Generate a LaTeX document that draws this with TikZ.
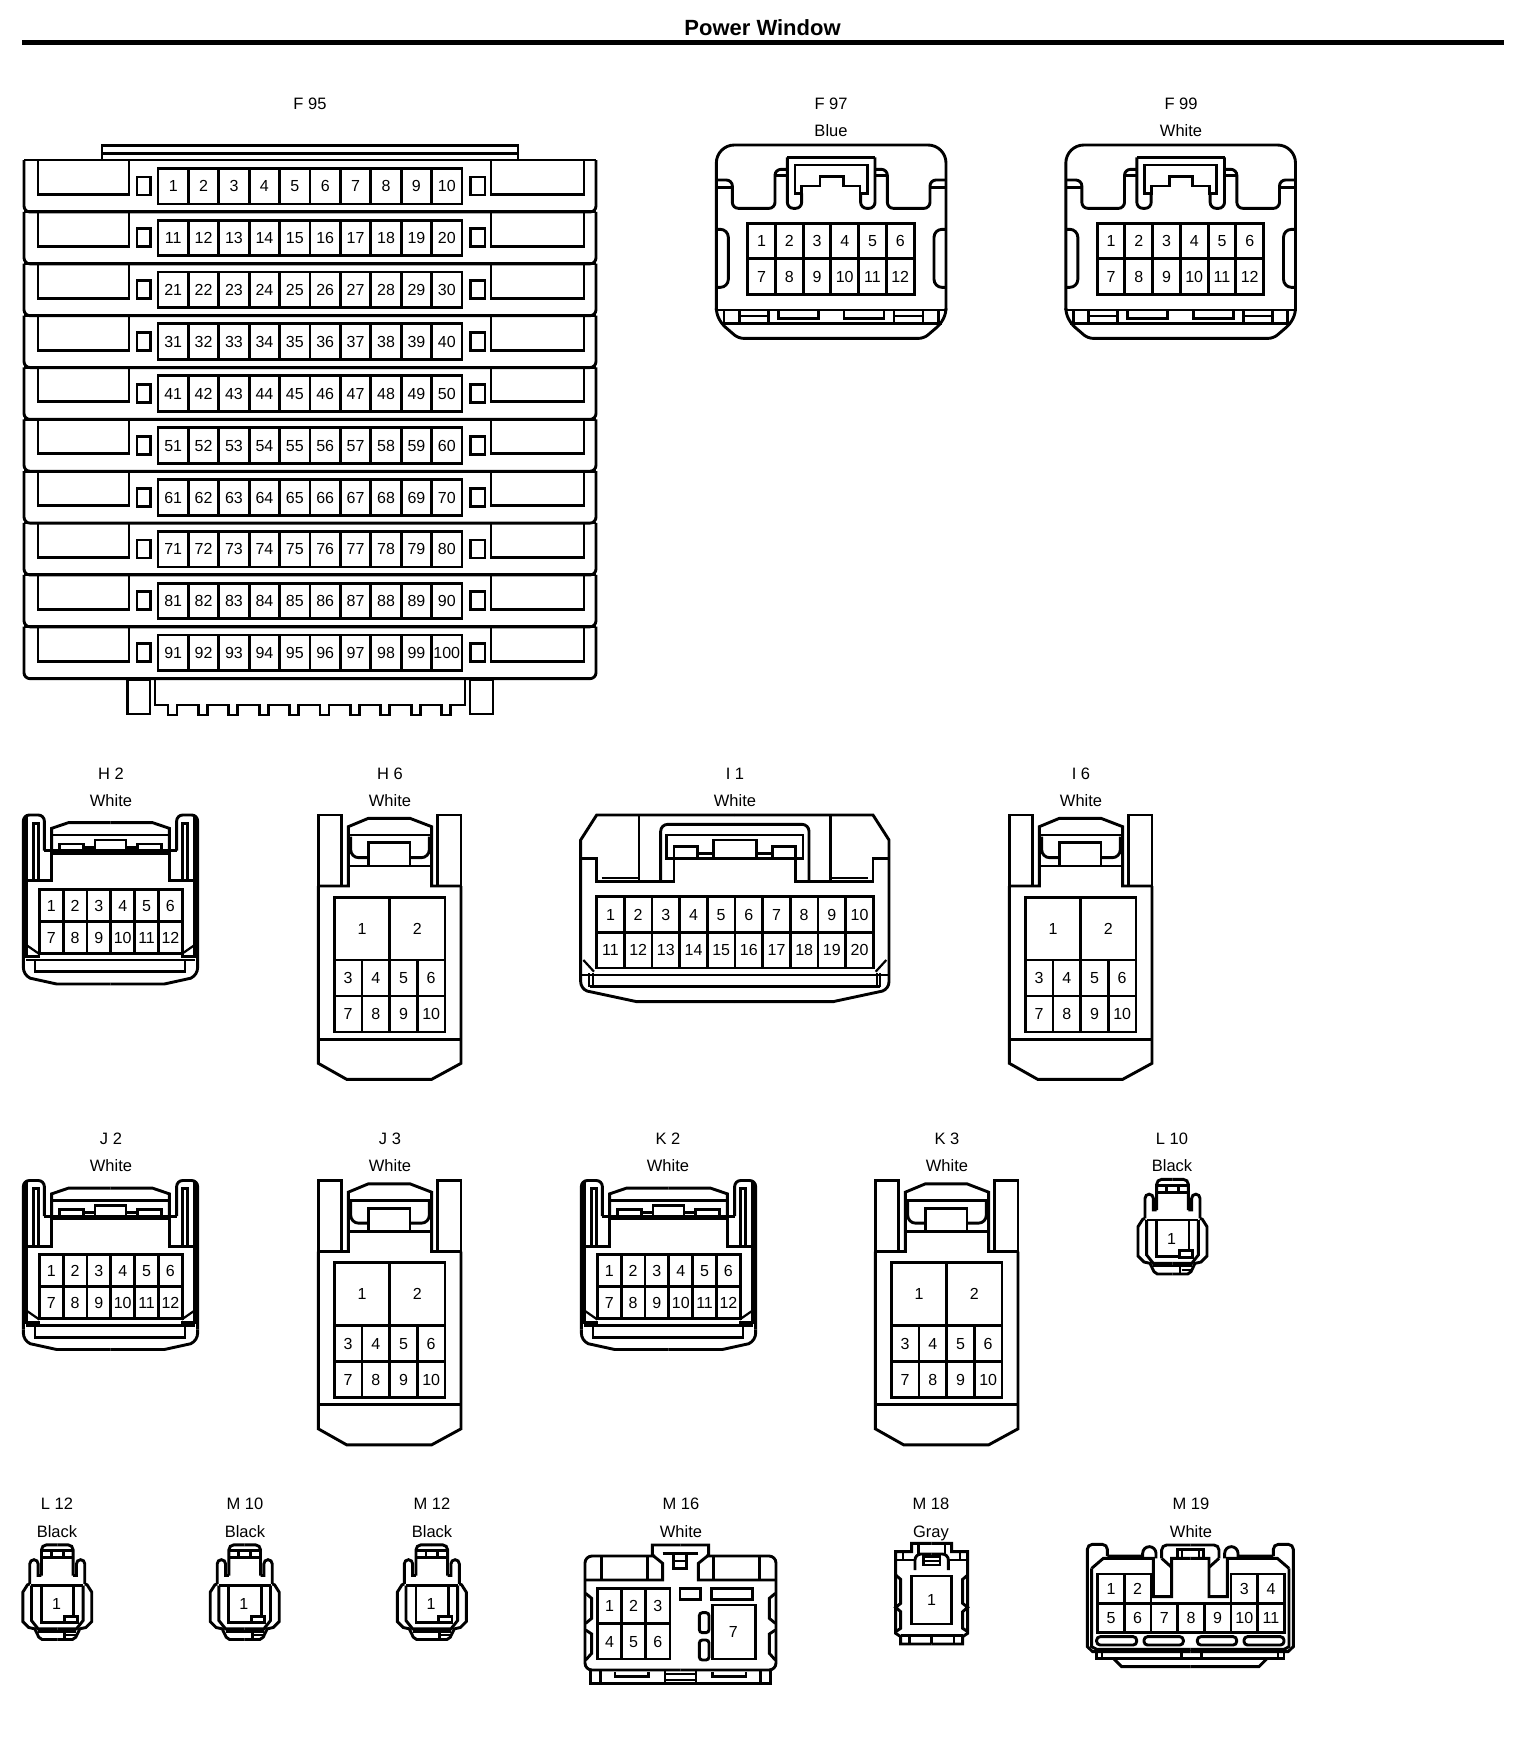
\documentclass[tikz,border=0pt]{standalone}
\usepackage{fontspec}
\setmainfont{Liberation Sans}
\usetikzlibrary{positioning}
\newcommand{\pinrow}[6]{% x, y, cell w, cell h, cells, first pin
  \foreach \cell in {1,...,#5}{
    \pgfmathtruncatemacro{\pinno}{#6+\cell-1}
    \draw[wire] ({#1+(\cell-1)*#3},#2) rectangle ++(#3,#4);
    \node[pinnum] (-p\pinno) at ({#1+(\cell-.5)*#3},{#2+#4/2}) {\pinno};
  }
}
\tikzset{
    % Define standard styles
    wire/.style={line width=2.9pt, line join=miter, draw=black},
    thinwire/.style={line width=2.2pt, draw=black},
    pinnum/.style={inner sep=0pt, text=black, text height=11.5pt, text depth=0pt, font=\fontsize{16}{18}\selectfont},
    tag/.style={inner sep=0pt, text=black, text height=12pt, text depth=0pt, font=\fontsize{16.5}{18}\selectfont},
    zoomed/.style={scale=1/3},
    % F 95 row
    f95row/.pic={
        \pgfmathtruncatemacro{\firstpin}{10*#1+1}
        \draw[wire] (24,0) -- (596,0);
        \draw[wire, rounded corners=6] (24,0) -- (24,52) -- (596,52) -- (596,0);
        \draw[wire] (38,0) -- (38,34.5) -- (129,34.5) -- (129,0);
        \draw[wire] (491,0) -- (491,34.5) -- (584,34.5) -- (584,0);
        \draw[wire] (137,17) rectangle (150.5,35);
        \draw[wire] (470.5,17) rectangle (485,35);
        \pinrow{158}{8.3}{30.4}{35.7}{10}{\firstpin}
    },
    % F 97, F 99
    flatcase/.pic={
        \begin{scope}[zoomed]
        \draw[wire, rounded corners=18] (49,690) -- (49,195) -- (738,195) -- (738,690);
        \draw[wire, rounded corners=5] (49,690) -- (49,700) -- (65,732) -- (115,775) -- (672,775) -- (722,732) -- (738,700) -- (738,690);
        \draw[wire] (49,690) -- (738,690);
        \draw[wire] (62,730) -- (725,730);
        \foreach \flip/\off in {1/0,-1/787}{
        \begin{scope}[shift={(\off,0)},xscale=\flip]
            \draw[wire, rounded corners=6] (262,268) -- (225,268) -- (225,385) -- (97,385) -- (97,300) -- (49,300);
            \draw[wire] (225,287) -- (262,287);
            \draw[wire] (49,322) -- (97,322);
            \draw[wire, rounded corners=6] (262,232) -- (262,385) -- (305,385) -- (305,340);
            \draw[wire, rounded corners=8] (49,448) -- (85,448) -- (85,622) -- (49,622);
            \draw[wire] (72,690) -- (72,730);
            \draw[wire] (118,690) -- (118,730);
            \draw[wire] (118,708) -- (205,708);
            \draw[wire] (205,690) -- (205,730);
            \draw[wire] (235,690) -- (235,715) -- (355,715) -- (355,690);
        \end{scope}
        }
        \draw[wire] (262,232) -- (525,232);
        \draw[wire] (285,340) -- (285,255) -- (502,255) -- (502,340) -- (480,340) -- (480,318) -- (430,318) -- (430,290) -- (360,290) -- (360,318) -- (305,318) -- (305,340) -- cycle;
        \pinrow{143}{430}{83.2}{106.5}{6}{1}
        \pinrow{143}{536.5}{83.2}{106.5}{6}{7}
        \end{scope}
    },
    % H 2, J 2, K 2
    tabcase/.pic={
        \begin{scope}[zoomed]
        \foreach \flip/\off in {1/0,-1/663}{
        \begin{scope}[shift={(\off,0)},xscale=\flip]
            \draw[wire, rounded corners=6] (70,612) -- (70,165) -- (133,165) -- (133,272);
            \draw[wire] (79,168) -- (79,590) -- (120,590);
            \draw[thinwire] (79,555) -- (118,582);
            \draw[wire] (100,362) -- (100,190) -- (115,190) -- (115,362);
            \draw[wire] (155,272) -- (155,362) -- (79,362);
            \draw[wire] (133,272) -- (331.5,272);
            \draw[wire] (155,280) -- (331.5,280);
            \draw[wire] (155,272) -- (155,205) -- (205,188) -- (331.5,188);
            \draw[wire] (155,225) -- (331.5,225);
            \draw[wire] (178,272) -- (178,252) -- (250,252) -- (250,272);
            \draw[wire] (250,262) -- (285,262);
            \draw[wire] (285,272) -- (285,240) -- (331.5,240);
            \draw[wire] (70,612) -- (70,622) arc[start angle=180, end angle=115, radius=36] -- (170,672) -- (331.5,672);
        \end{scope}
        }
        \pinrow{118}{388}{71.5}{96}{6}{1}
        \pinrow{118}{484}{71.5}{96}{6}{7}
        \draw[wire] (79,600) -- (584,600);
        \draw[wire] (105,603) -- (105,635) -- (555,635) -- (555,603);
        \end{scope}
    },
    % H 6, I 6, J 3, K 3
    tallcase/.pic={
        \begin{scope}[zoomed]
        \draw[wire] (955,378) -- (955,165) -- (1025,165) -- (1025,378);
        \draw[wire] (1383,378) -- (1383,165) -- (1313,165) -- (1313,378);
        \draw[wire] (955,378) -- (955,910) -- (1040,958) -- (1295,958) -- (1383,910) -- (1383,378);
        \draw[wire] (955,378) -- (1045,378) -- (1045,200) -- (1105,175) -- (1230,175) -- (1295,200) -- (1295,378) -- (1383,378);
        \draw[wire] (1045,225) -- (1295,225);
        \draw[wire] (1045,318) -- (1295,318);
        \draw[wire] (1105,318) -- (1105,248) -- (1230,248) -- (1230,318);
        \draw[wire, rounded corners=8] (1052,230) -- (1052,293) -- (1105,293);
        \draw[wire, rounded corners=8] (1288,230) -- (1288,293) -- (1230,293);
        \draw[wire] (955,838) -- (1383,838);
        \pinrow{1003}{412}{166}{188}{2}{1}
        \pinrow{1003}{600}{83}{108}{4}{3}
        \pinrow{1003}{708}{83}{108}{4}{7}
        \end{scope}
    },
    % I 1
    widecase/.pic={
        \begin{scope}[zoomed]
        \foreach \flip/\off in {1/0,-1/989}{
        \begin{scope}[shift={(\off,0)},xscale=\flip]
            \draw[wire] (494.5,165) -- (80,165) -- (32,240) -- (32,665) arc[start angle=180, end angle=110, radius=30] -- (200,725) -- (494.5,725);
            \draw[wire] (32,295) -- (80,295) -- (80,365) -- (312,365) -- (312,260) -- (382,260) -- (382,295);
            \draw[wire] (207,165) -- (207,365);
            \draw[wire, rounded corners=7] (272,365) -- (272,193) -- (494.5,193);
            \draw[wire] (494.5,225) -- (290,225) -- (290,295) -- (494.5,295);
            \draw[wire] (382,280) -- (430,280);
            \draw[wire] (430,295) -- (430,240) -- (494.5,240);
            \draw[thinwire] (95,355) -- (207,355);
            \draw[wire] (32,645) -- (494.5,645);
            \draw[wire] (60,680) -- (494.5,680);
            \draw[thinwire] (58,640) -- (58,680);
            \draw[thinwire] (68,640) -- (68,680);
            \draw[thinwire] (40,600) -- (72,635);
        \end{scope}
        }
        \pinrow{80}{410}{83}{107}{10}{1}
        \pinrow{80}{517}{83}{107}{10}{11}
        \end{scope}
    },
    % L 10, L 12, M 10, M 12
    smallcase/.pic={
        \begin{scope}[zoomed]
        \foreach \flip/\off in {1/0,-1/315}{
        \begin{scope}[shift={(\off,0)},xscale=\flip]
            \draw[wire, rounded corners=5] (110,240) -- (110,148) -- (157.5,148);
            \draw[wire] (75,265) -- (75,205) arc[start angle=180, end angle=360, radius=12.5] -- (100,240) -- (110,240);
            \draw[wire] (75,265) -- (68,268) -- (54,290) -- (54,378) -- (72,396) -- (90,400) -- (102,425) -- (112,432) -- (157.5,432);
            \draw[wire] (80,270) -- (157.5,270);
            \draw[wire] (80,270) -- (80,375) -- (100,400) -- (157.5,400);
        \end{scope}
        }
        \draw[wire] (110,166) -- (205,166);
        \draw[wire] (110,187) -- (205,187);
        \draw[wire] (140,166) -- (140,187);
        \draw[wire] (175,166) -- (175,187);
        \draw[wire] (110,270) -- (207,270) -- (207,380) -- (110,380) -- cycle;
        \draw[wire, fill=white] (178,362) rectangle (218,382);
        \node[pinnum] (-p1) at (155,325) {1};
        \draw[wire] (100,408) -- (215,408);
        \draw[wire] (180,408) -- (180,432);
        \draw[thinwire] (185,419) -- (215,419);
        \end{scope}
    },
    % M 16
    blockcase/.pic={
        \begin{scope}[zoomed]
        \foreach \flip/\off in {1/0,-1/663}{
        \begin{scope}[shift={(\off,0)},xscale=\flip]
            \draw[wire, rounded corners=7] (255,198) -- (45,198) -- (45,540) -- (331.5,540);
            \draw[wire] (331.5,165) -- (247,165) -- (247,195) -- (278,220) -- (278,270) -- (45,270);
            \draw[wire] (278,190) -- (331.5,190);
            \draw[wire] (95,198) -- (95,270);
            \draw[wire] (232,198) -- (232,270);
            \draw[wire] (47,310) -- (65,325) -- (65,385) -- (47,400);
            \draw[wire] (47,420) -- (65,432) -- (65,490) -- (47,510);
            \draw[wire] (62,540) -- (62,580) -- (331.5,580);
            \draw[wire] (92,540) -- (92,580);
            \draw[wire] (135,545) -- (135,560) -- (235,560) -- (235,545);
            \draw[wire] (285,540) -- (285,580);
            \draw[wire] (285,552) -- (331.5,552);
            \draw[wire] (285,570) -- (331.5,570);
        \end{scope}
        }
        \draw[wire] (310,190) -- (310,235) -- (350,235) -- (350,190);
        \draw[wire] (310,213) -- (350,213);
        \pinrow{82}{295}{72.7}{106}{3}{1}
        \pinrow{82}{401}{72.7}{106}{3}{4}
        \draw[wire] (330,295) rectangle (392,328);
        \draw[wire] (425,295) rectangle (547,328);
        \draw[wire, rounded corners=3] (388,368) rectangle (417,428);
        \draw[wire, rounded corners=3] (388,450) rectangle (417,510);
        \draw[wire] (427,345) rectangle (557,507);
        \node[pinnum] (-p7) at (490,425) {7};
        \end{scope}
    },
    % M 18
    squarecase/.pic={
        \begin{scope}[zoomed]
        \foreach \flip/\off in {1/0,-1/310}{
        \begin{scope}[shift={(\off,0)},xscale=\flip]
            \draw[wire] (155,160) -- (95,160) -- (95,185) -- (47,185) -- (47,430) -- (62,440) -- (62,462) -- (155,462);
            \draw[wire] (47,210) -- (105,210);
            \draw[thinwire] (70,190) -- (70,210);
            \draw[wire] (115,162) -- (115,192);
            \draw[wire, rounded corners=6] (105,240) -- (105,192) -- (155,192);
            \draw[wire] (47,255) -- (62,268) -- (62,340) -- (47,352) -- (62,365) -- (62,415) -- (47,425);
            \draw[wire] (62,437) -- (155,437);
            \draw[wire] (88,437) -- (88,462);
        \end{scope}
        }
        \draw[wire] (155,437) -- (155,462);
        \draw[wire] (130,200) rectangle (180,225);
        \draw[thinwire] (130,212) -- (180,212);
        \draw[wire] (95,258) rectangle (215,402);
        \node[pinnum] (-p1) at (155,328) {1};
        \end{scope}
    },
    % M 19
    splitcase/.pic={
        \begin{scope}[zoomed]
        \foreach \flip/\off in {1/0,-1/722}{
        \begin{scope}[shift={(\off,0)},xscale=\flip]
            \draw[wire, rounded corners=5] (52,300) -- (52,163) -- (112,163) -- (112,198);
            \draw[wire] (52,300) -- (52,470) -- (68,485) -- (361,485);
            \draw[wire] (112,198) -- (218,198) -- (218,190) arc[start angle=180, end angle=360, radius=20] -- (258,205);
            \draw[wire] (65,235) -- (100,205) -- (250,205) -- (250,320) -- (305,320) -- (305,205) -- (361,205);
            \draw[wire] (65,235) -- (65,470) -- (80,478) -- (361,478);
            \draw[wire, rounded corners=5] (275,205) -- (275,165) -- (361,165);
            \draw[wire] (275,205) -- (305,232);
            \draw[wire] (322,200) -- (322,178) -- (361,178);
            \draw[thinwire] (335,182) -- (335,200);
            \draw[wire] (80,485) -- (80,505) -- (361,505);
            \draw[thinwire] (97,488) -- (97,505);
            \draw[wire] (130,505) -- (155,530) -- (361,530);
            \draw[wire, rounded corners=3.5] (80,440) rectangle (200,465);
            \draw[wire, rounded corners=3.5] (222,440) rectangle (340,465);
        \end{scope}
        }
        \draw[wire] (335,490) -- (335,505);
        \draw[wire] (395,490) -- (395,505);
        \pinrow{83}{252}{80}{88}{2}{1}
        \pinrow{483}{252}{80}{88}{2}{3}
        \pinrow{83}{340}{80}{88}{7}{5}
        \end{scope}
    }
}
\begin{document}
\begin{tikzpicture}[x=1pt, y=-1pt]
\useasboundingbox (0,0) rectangle (1536,1748);

% Heading
\node[inner sep=0pt, font=\fontsize{22}{24}\selectfont\bfseries] (heading) at (762.5,28) {Power Window};
\draw[line width=4.5pt] (22,42.5) -- (1503.5,42.5);

% Connector names
\node[tag] (f95name) at (310,103) {F 95};
\foreach \id/\x/\lab/\col in {f97/831/F 97/Blue, f99/1181/F 99/White}{
    \node[tag] (\id name) at (\x,103) {\lab};
    \node[tag] (\id col) at (\x,130.5) {\col};
}
\foreach \id/\x/\lab/\col in {h2/111/H 2/White, h6/390/H 6/White, i1/735/I 1/White, i6/1081/I 6/White}{
    \node[tag] (\id name) at (\x,773) {\lab};
    \node[tag] (\id col) at (\x,800.5) {\col};
}
\foreach \id/\x/\lab/\col in {j2/111/J 2/White, j3/390/J 3/White, k2/668/K 2/White, k3/947/K 3/White, l10/1172/L 10/Black}{
    \node[tag] (\id name) at (\x,1138) {\lab};
    \node[tag] (\id col) at (\x,1165.5) {\col};
}
\foreach \id/\x/\lab/\col in {l12/57/L 12/Black, m10/245/M 10/Black, m12/432/M 12/Black, m16/681/M 16/White, m18/931/M 18/Gray, m19/1191/M 19/White}{
    \node[tag] (\id name) at (\x,1503) {\lab};
    \node[tag] (\id col) at (\x,1531) {\col};
}

% F 95
\draw[wire] (102,160) -- (102,145.5) -- (518,145.5) -- (518,160);
\draw[wire] (102,153.5) -- (518,153.5);
\foreach \row in {0,...,9}{
    \pic (f95r\row) at (0,{160+\row*51.85}) {f95row=\row};
}
\draw[wire] (127.5,680) rectangle (150,714);
\draw[wire] (470,680) rectangle (493,714);
\draw[wire] (155,680) -- (155,705)
    \foreach \tooth in {0,...,9}{ -- ({168+\tooth*30.4},705) -- ({168+\tooth*30.4},715) -- ({177+\tooth*30.4},715) -- ({177+\tooth*30.4},705) }
    -- (465,705) -- (465,680);

% Row one
\pic (f97) at (700,80) {flatcase};
\pic (f99) at (1049.5,80) {flatcase};

% Row two
\pic (h2) at (0,760) {tabcase};
\pic (h6) at (0,760) {tallcase};
\pic (i1) at (570,760) {widecase};
\pic (i6) at (691,760) {tallcase};

% Row three
\pic (j2) at (0,1125.5) {tabcase};
\pic (j3) at (0,1125.5) {tallcase};
\pic (k2) at (558,1125.5) {tabcase};
\pic (k3) at (557,1125.5) {tallcase};
\pic (l10) at (1120,1130) {smallcase};

% Row four
\pic (l12) at (4.8,1495.5) {smallcase};
\pic (m10) at (192.2,1495.5) {smallcase};
\pic (m12) at (379.3,1495.5) {smallcase};
\pic (m16) at (570,1490) {blockcase};
\pic (m18) at (880,1490) {squarecase};
\pic (m19) at (1070,1490) {splitcase};

\end{tikzpicture}
\end{document}
